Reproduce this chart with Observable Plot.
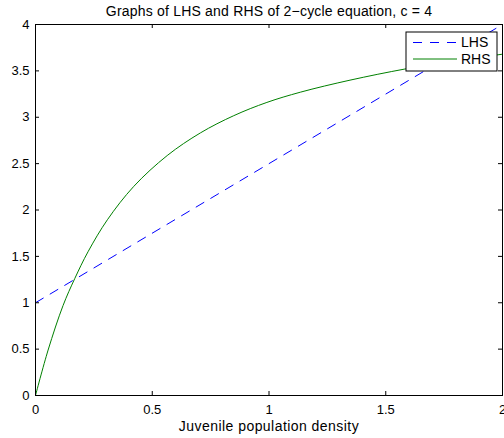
<!DOCTYPE html>
<html><head><meta charset="utf-8">
<script src="https://cdn.jsdelivr.net/npm/d3@7"></script>
<script src="https://cdn.jsdelivr.net/npm/@observablehq/plot@0.6"></script>
<style>body{margin:0;background:#fff;} svg{display:block}</style>
</head><body><div id="chart"></div>
<script>
const title = "Graphs of LHS and RHS of 2\u2212cycle equation, c = 4";
const xLabel = "Juvenile population density";
const xTicks = [0, 0.5, 1, 1.5, 2];
const yTicks = [0, 0.5, 1, 1.5, 2, 2.5, 3, 3.5, 4];
const seriesNames = ["LHS", "RHS"];
const seriesColors = ["#0000ff", "#008000"];
const lhsX = [0, 2];
const lhsY = [1, 4];
const rhsX = [0, 0.054, 0.118, 0.168, 0.225, 0.308, 0.421, 0.564, 0.706, 0.849, 0.991, 1.134, 1.347, 1.582, 1.75, 2.0];
const rhsY = [0, 0.49, 0.97, 1.26, 1.55, 1.895, 2.255, 2.587, 2.831, 3.017, 3.16, 3.27, 3.40, 3.52, 3.59, 3.68];

const W = 504, H = 438, mL = 35, mR = 2, mT = 24, mB = 43;
const innerW = W - mL - mR, innerH = H - mT - mB;
const tick = 4;
const font = "'Liberation Sans', Arial, Helvetica, sans-serif";

const lhs = lhsX.map((x, i) => ({x, y: lhsY[i]}));
const rhs = rhsX.map((x, i) => ({x, y: rhsY[i]}));

const chart = Plot.plot({
  width: W, height: H,
  marginLeft: mL, marginRight: mR, marginTop: mT, marginBottom: mB,
  style: {fontFamily: font, fontSize: "13px", background: "white", color: "black", overflow: "visible"},
  x: {domain: [0, 2]},
  y: {domain: [0, 4]},
  marks: [
    Plot.line(lhs, {x: "x", y: "y", stroke: seriesColors[0], strokeWidth: 1, strokeDasharray: "9,8"}),
    Plot.line(rhs, {x: "x", y: "y", stroke: seriesColors[1], strokeWidth: 1, curve: "catmull-rom"}),
    Plot.ruleX(xTicks, {x: d => d, insetTop: innerH - tick, stroke: "black"}),
    Plot.ruleX(xTicks, {x: d => d, insetBottom: innerH - tick, stroke: "black"}),
    Plot.ruleY(yTicks, {y: d => d, insetRight: innerW - tick, stroke: "black"}),
    Plot.ruleY(yTicks, {y: d => d, insetLeft: innerW - tick, stroke: "black"}),
    Plot.frame({stroke: "black", strokeWidth: 1}),
    Plot.axisX({ticks: xTicks, tickSize: 0, tickPadding: 9, tickFormat: d => String(d), label: null}),
    Plot.axisY({ticks: yTicks, tickSize: 0, tickPadding: 6, tickFormat: d => String(d), label: null}),
    Plot.text([title], {frameAnchor: "top", lineAnchor: "bottom", dy: -9, fontSize: 14}),
    Plot.text([xLabel], {frameAnchor: "bottom", lineAnchor: "bottom", dy: 35, fontSize: 14})
  ]
});
document.getElementById("chart").appendChild(chart);

// letter spacing for title and label
d3.select(chart).selectAll("text").filter(function() {
  const t = this.textContent; return t === title || t === xLabel;
}).attr("letter-spacing", function() { return this.textContent === title ? "0.2px" : "0.45px"; });

// legend
const svg = d3.select(chart);
const lgW = 91, lgH = 39;
const lgX = W - mR - 5 - lgW, lgY = mT + 8;
const g = svg.append("g").attr("font-family", font).attr("font-size", 14).attr("text-anchor", "start");
g.append("rect").attr("x", lgX).attr("y", lgY).attr("width", lgW).attr("height", lgH)
  .attr("fill", "white").attr("stroke", "black").attr("stroke-width", 1);
seriesNames.forEach((name, i) => {
  const cy = lgY + 10.5 + i * 16.5;
  g.append("line").attr("x1", lgX + 7).attr("x2", lgX + 51).attr("y1", cy).attr("y2", cy)
    .attr("stroke", seriesColors[i]).attr("stroke-width", 1)
    .attr("stroke-dasharray", i === 0 ? "9,8" : null);
  g.append("text").attr("x", lgX + 55).attr("y", cy).attr("dy", "0.35em").attr("fill", "black").text(name);
});
</script>
</body></html>
